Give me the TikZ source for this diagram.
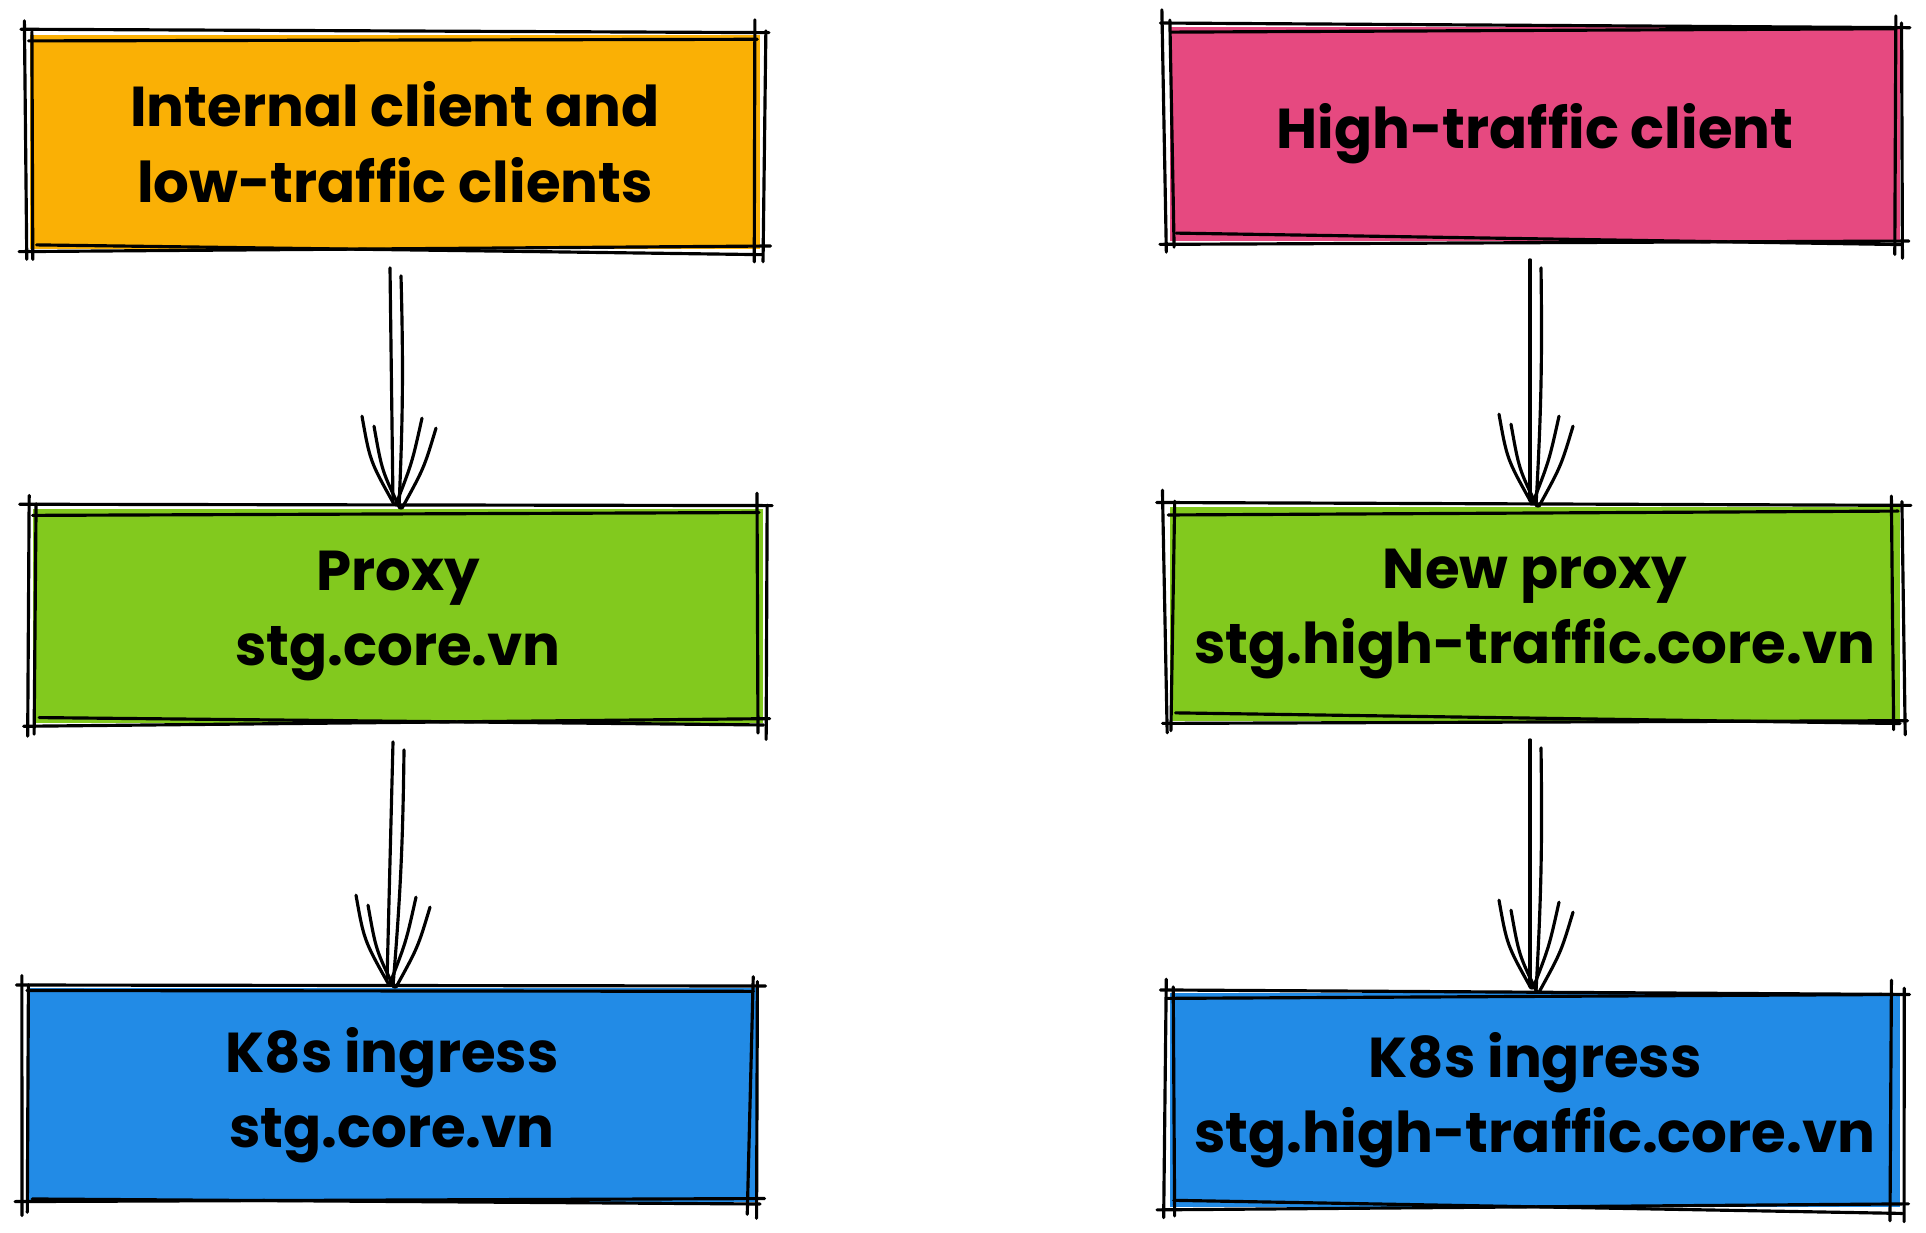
\documentclass[tikz,border=0pt]{standalone}
\usepackage{fontspec}
\setmainfont{Poppins}
\usepackage{tikz}
\usetikzlibrary{calc}
\usepackage{xcolor}

\definecolor{ochre}{HTML}{FAB005}
\definecolor{rose}{HTML}{E64980}
\definecolor{leaf}{HTML}{82C91E}
\definecolor{sky}{HTML}{228BE6}

\tikzset{
  ink/.style={black,line width=1.8pt,line cap=round},
  card/.style={minimum width=14.6cm,minimum height=4.3cm,inner sep=0pt,align=center,
    font=\fontsize{32}{43}\selectfont\bfseries},
}

% doubled hand-drawn outline round a node
\newcommand{\roughbox}[1]{%
  \draw[ink] ($(#1.north west)+(-10+rand*3,-4+rand*3)$) -- ($(#1.north east)+(8+rand*3,rand*3)$);
  \draw[ink] ($(#1.north west)+(rand*3,6+rand*3)$) -- ($(#1.north east)+(-4+rand*3,3+rand*3)$);
  \draw[ink] ($(#1.south west)+(-10+rand*3,rand*3)$) -- ($(#1.south east)+(8+rand*3,-3+rand*3)$);
  \draw[ink] ($(#1.south west)+(4+rand*3,-6+rand*3)$) -- ($(#1.south east)+(rand*3,4+rand*3)$);
  \draw[ink] ($(#1.north west)+(-6+rand*3,-14+rand*3)$) -- ($(#1.south west)+(-4+rand*3,12+rand*3)$);
  \draw[ink] ($(#1.north west)+(3+rand*3,-4+rand*3)$) -- ($(#1.south west)+(2+rand*3,8+rand*3)$);
  \draw[ink] ($(#1.north east)+(-6+rand*3,-12+rand*3)$) -- ($(#1.south east)+(-8+rand*3,10+rand*3)$);
  \draw[ink] ($(#1.north east)+(3+rand*3,-4+rand*3)$) -- ($(#1.south east)+(2+rand*3,14+rand*3)$);
}

% doubled hand-drawn arrow from one node down to the next
\newcommand{\roughflow}[2]{%
  \draw[ink] ($(#1.south)+(-5,18)$) -- ($(#2.north)+(-5,-6)$);
  \draw[ink] ($(#1.south)+(6,26)$) to[bend left=2] ($(#2.north)+(1,-1)$);
  \draw[ink] ($(#2.north)+(-36,-92)$) .. controls +(8,45) .. ($(#2.north)+(-4,-4)$);
  \draw[ink] ($(#2.north)+(-24,-82)$) .. controls +(8,45) .. ($(#2.north)+(2,0)$);
  \draw[ink] ($(#2.north)+(24,-90)$) .. controls +(-10,45) .. ($(#2.north)+(-2,-4)$);
  \draw[ink] ($(#2.north)+(38,-80)$) .. controls +(-12,40) .. ($(#2.north)+(4,0)$);
}

\begin{document}
\begin{tikzpicture}[x=0.02cm,y=-0.02cm]
\pgfmathsetseed{11}
\useasboundingbox (0,0) rectangle (1926,1233);

\node[card,fill=ochre] (client) at (395,142) {Internal client and\\low-traffic clients};
\node[card,fill=rose] (hiclient) at (1535,134) {High-traffic client};
\node[card,fill=leaf] (proxy) at (398,616) {Proxy\\stg.core.vn};
\node[card,fill=leaf] (newproxy) at (1535,614) {New proxy\\stg.high-traffic.core.vn};
\node[card,fill=sky] (ingress) at (392,1095) {K8s ingress\\stg.core.vn};
\node[card,fill=sky] (newingress) at (1535,1100) {K8s ingress\\stg.high-traffic.core.vn};

\foreach \n in {client,hiclient,proxy,newproxy,ingress,newingress}
  \roughbox{\n};

\roughflow{client}{proxy}
\roughflow{hiclient}{newproxy}
\roughflow{proxy}{ingress}
\roughflow{newproxy}{newingress}
\end{tikzpicture}
\end{document}
